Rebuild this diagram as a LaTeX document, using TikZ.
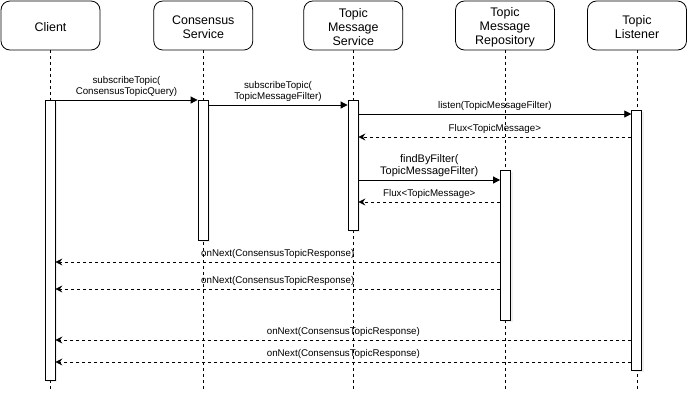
\documentclass[tikz,border=0pt]{standalone}
\usepackage{fontspec}
\setmainfont{Liberation Sans}
\usetikzlibrary{arrows.meta,shadows}
\begin{document}
\begin{tikzpicture}[x=1bp,y=-1bp,
  head/.style={draw, rounded corners=9bp, minimum width=99bp, minimum height=49bp,
    line width=0.8bp, fill=white, inner sep=0pt},
  htxt/.style={align=center, font=\fontsize{12.5}{14.2}\selectfont, inner sep=0pt},
  act/.style={draw, fill=white, minimum width=10bp, inner sep=0pt, line width=0.8bp,
    drop shadow={shadow xshift=2bp, shadow yshift=-1.5bp, opacity=0.18, fill=gray!70}},
  life/.style={dash pattern=on 3bp off 3bp, line width=0.7bp},
  call/.style={line width=0.8bp, -{Triangle[length=7bp,width=7bp]}},
  ret/.style={line width=0.8bp, dash pattern=on 3bp off 3bp, -{Stealth[length=7bp,width=7bp,inset=2.5bp]}},
  lbl/.style={font=\fontsize{9.8}{11}\selectfont, align=center, inner sep=0pt, anchor=south, yshift=2.7bp},
  lblb/.style={lbl, font=\fontsize{11}{12.5}\selectfont}
]
\useasboundingbox (0,0) rectangle (698,402);

% headers
\node[head] (hCl)  at (50.5,25.5) {};
\node[head] (hCS)  at (203.3,25.5) {};
\node[head] (hTMS) at (353.3,25.5) {};
\node[head] (hTMR) at (505,25.5) {};
\node[head] (hTL)  at (637,25.5) {};
\node[htxt] (tCl)  at ([yshift=-1.5bp]hCl.center)  {Client};
\node[htxt] (tCS)  at ([yshift=-1.5bp]hCS.center)  {Consensus\\Service};
\node[htxt] (tTMS) at ([yshift=-1.5bp]hTMS.center) {Topic\\Message\\Service};
\node[htxt] (tTMR) at ([yshift=-1.5bp]hTMR.center) {Topic\\Message\\Repository};
\node[htxt] (tTL)  at ([yshift=-1.5bp]hTL.center)  {Topic\\Listener};

% lifeline ends
\coordinate (eCl)  at (50,390);
\coordinate (eCS)  at (203,390);
\coordinate (eTMS) at (353,390);
\coordinate (eTMR) at (505,390);
\coordinate (eTL)  at (637,390);

\draw[life] (hCl.south -| eCl) -- (eCl);
\draw[life] (hCS.south -| eCS) -- (eCS);
\draw[life] (hTMS.south -| eTMS) -- (eTMS);
\draw[life] (hTMR.south -| eTMR) -- (eTMR);
\draw[life] (hTL.south -| eTL) -- (eTL);

% activation bars
\node[act, anchor=north, minimum height=280bp] (aCl)  at (50,100) {};
\node[act, anchor=north, minimum height=140bp] (aCS)  at (203,100) {};
\node[act, anchor=north, minimum height=130bp] (aTMS) at (353,100) {};
\node[act, anchor=north, minimum height=150bp] (aTMR) at (505.5,170) {};
\node[act, anchor=north, minimum height=260bp] (aTL)  at (636.7,110) {};

% messages
\draw[call] (aCl.east |- 0,100) -- node[lbl] {subscribeTopic(\\ConsensusTopicQuery)} (aCS.west |- 0,100);
\draw[call] (aCS.east |- 0,105) -- node[lbl] {subscribeTopic(\\TopicMessageFilter)} (aTMS.west |- 0,105);
\draw[call] (aTMS.east |- 0,114) -- node[lbl] {listen(TopicMessageFilter)} (aTL.west |- 0,114);
\draw[ret] (aTL.west |- 0,137) -- node[lbl] {Flux<TopicMessage>} (aTMS.east |- 0,137);
\draw[call] (aTMS.east |- 0,180) -- node[lblb] {findByFilter(\\TopicMessageFilter)} (aTMR.west |- 0,180);
\draw[ret] (aTMR.west |- 0,202) -- node[lbl] {Flux<TopicMessage>} (aTMS.east |- 0,202);
\draw[ret] (aTMR.west |- 0,262) -- node[lbl] {onNext(ConsensusTopicResponse)} (aCl.east |- 0,262);
\draw[ret] (aTMR.west |- 0,289) -- node[lbl] {onNext(ConsensusTopicResponse)} (aCl.east |- 0,289);
\draw[ret] (aTL.west |- 0,340) -- node[lbl] {onNext(ConsensusTopicResponse)} (aCl.east |- 0,340);
\draw[ret] (aTL.west |- 0,362) -- node[lbl] {onNext(ConsensusTopicResponse)} (aCl.east |- 0,362);
\end{tikzpicture}
\end{document}
